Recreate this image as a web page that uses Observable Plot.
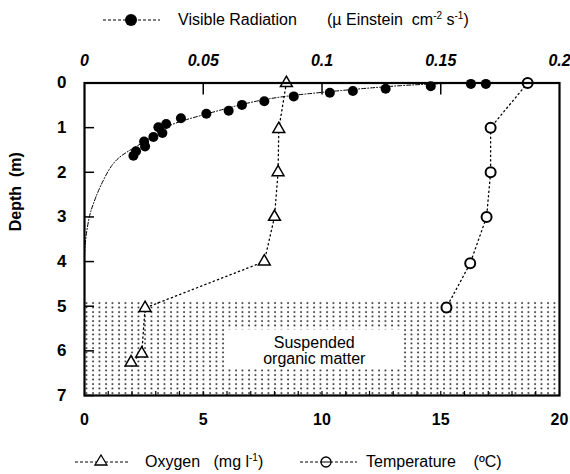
<!DOCTYPE html>
<html><head><meta charset="utf-8">
<script src="https://cdn.jsdelivr.net/npm/d3@7"></script>
<script src="https://cdn.jsdelivr.net/npm/@observablehq/plot@0.6"></script>
<style>
body{margin:0;background:#fff;font-family:"Liberation Sans",Arial,sans-serif;color:#000;}
#wrap{position:relative;width:570px;height:474px;overflow:hidden;}
.leg{position:absolute;left:0;width:570px;}
.leg svg{position:absolute;left:0;top:0;}
.t{position:absolute;font-size:16px;line-height:16px;white-space:nowrap;}
.t sup{font-size:10px;vertical-align:6px;line-height:0;}
</style></head>
<body><div id="wrap">
<div id="topLeg" class="leg" style="top:0;height:40px"></div>
<div id="chart" style="position:absolute;top:40px;left:0"></div>
<div id="botLeg" class="leg" style="top:440px;height:34px"></div>
</div>
<script>
// ---- data ----
const radiation      = [0.169,0.1627,0.1458,0.1268,0.113,0.1033,0.0881,0.0757,0.0663,0.0607,0.0513,0.0406,0.0344,0.0311,0.0328,0.0290,0.0251,0.0255,0.0217,0.0206];
const radiationDepth = [0.02,0.02,0.07,0.13,0.18,0.22,0.30,0.41,0.49,0.62,0.69,0.79,0.92,0.99,1.12,1.21,1.31,1.42,1.53,1.63];
const fitRadiation   = [0.16,0.133,0.10,0.074,0.0516,0.036,0.027,0.0178,0.0115,0.0065,0.0037,0.002,0.0006,0.0];
const fitDepth       = [0,0.06,0.21,0.39,0.69,0.95,1.25,1.55,1.85,2.34,2.71,3.01,3.46,3.85];
const oxygen         = [8.5,8.18,8.15,8.0,7.57,2.55,2.41,1.96];
const oxygenDepth    = [0,1.03,2,3,4,5.04,6.06,6.26];
const temperature    = [18.66,17.1,17.1,16.93,16.24,15.24];
const temperatureDepth = [0,1,2,3,4.04,5.03];
const depthTicks     = [0,1,2,3,4,5,6,7];
const bottomTicks    = [0,5,10,15,20];
const bottomMinorTicks = d3.range(0,21,1);
const topTicks       = [0,0.05,0.1,0.15,0.2];
const topTickLabels  = ["0","0.05","0.1","0.15","0.2"];
const topInnerTicks  = [0.05,0.1,0.15];
const layerDepth     = [4.87,7];          // suspended organic matter layer
const layerLabel     = ["Suspended","organic matter"];
const labelBoxX      = [6.0,13.35];
const labelBoxDepth  = [5.53,6.4];
const labelDepths    = [5.82,6.17];
const radToBottom    = 100;               // 0–0.2 top scale shares the 0–20 bottom scale

// ---- build rows ----
const radRows  = radiation.map((v,i)=>({x:v*radToBottom, y:radiationDepth[i]}));
const fitRows  = fitRadiation.map((v,i)=>({x:v*radToBottom, y:fitDepth[i]}));
const oxyRows  = oxygen.map((v,i)=>({x:v, y:oxygenDepth[i]}));
const tempRows = temperature.map((v,i)=>({x:v, y:temperatureDepth[i]}));
const xDomain = [bottomTicks[0], bottomTicks[bottomTicks.length-1]];

const plot = Plot.plot({
  width:570, height:400,
  marginLeft:84, marginRight:11, marginTop:42.5, marginBottom:45,
  x:{domain:xDomain},
  y:{domain:[0,7], reverse:true},
  style:{fontFamily:"'Liberation Sans', Arial, sans-serif", fontSize:"16px", color:"black", background:"white", overflow:"visible"},
  marks:[
    Plot.rect([{x1:xDomain[0],x2:xDomain[1],y1:layerDepth[0],y2:layerDepth[1]}],{x1:"x1",x2:"x2",y1:"y1",y2:"y2",fill:"url(#dots)"}),
    Plot.rect([{x1:labelBoxX[0],x2:labelBoxX[1],y1:labelBoxDepth[0],y2:labelBoxDepth[1]}],{x1:"x1",x2:"x2",y1:"y1",y2:"y2",fill:"white"}),
    Plot.text(layerLabel,{x:(labelBoxX[0]+labelBoxX[1])/2, y:(d,i)=>labelDepths[i], text:d=>d, fontSize:16}),
    Plot.line(fitRows,{x:"x",y:"y",stroke:"black",strokeWidth:1,strokeDasharray:"4,2,1,2",curve:"natural"}),
    Plot.line(oxyRows,{x:"x",y:"y",stroke:"black",strokeWidth:1.3,strokeDasharray:"1.3,3.2"}),
    Plot.line(tempRows,{x:"x",y:"y",stroke:"black",strokeWidth:1.3,strokeDasharray:"1.3,3.2"}),
    Plot.dot(radRows,{x:"x",y:"y",r:5,fill:"black"}),
    Plot.dot(oxyRows,{x:"x",y:"y",symbol:"triangle",r:4.4,stroke:"black",fill:"white",strokeWidth:1.5}),
    Plot.dot(tempRows,{x:"x",y:"y",r:5,stroke:"black",fill:"white",strokeWidth:2}),
    Plot.frame({stroke:"black",strokeWidth:2.2}),
    // left axis
    Plot.axisY(depthTicks,{anchor:"left",tickSize:-10,tickFormat:()=>"",strokeWidth:1.5}),
    Plot.axisY(depthTicks,{anchor:"left",tickSize:0,tickPadding:18,fontWeight:"bold",fontSize:17,label:null}),
    // bottom axis
    Plot.axisX(bottomMinorTicks,{anchor:"bottom",tickSize:-4,tickFormat:()=>"",strokeWidth:1.2}),
    Plot.axisX(bottomTicks,{anchor:"bottom",tickSize:0,tickPadding:18,fontWeight:"bold",fontSize:16,label:null}),
    // top axis (visible radiation)
    Plot.axisX(topInnerTicks.map(v=>v*radToBottom),{anchor:"top",tickSize:-11,tickFormat:()=>"",strokeWidth:1.5}),
    Plot.axisX(topTicks.map(v=>v*radToBottom),{anchor:"top",tickSize:0,tickPadding:17,fontWeight:"bold",fontStyle:"italic",fontSize:16,
      tickFormat:(d,i)=>topTickLabels[i],label:null}),
    // y label
    Plot.text(["Depth  (m)"],{frameAnchor:"left",dx:-69,dy:-8,rotate:-90,fontWeight:"bold",fontSize:16})
  ]
});
// dotted pattern
const ns="http://www.w3.org/2000/svg";
const defs=document.createElementNS(ns,"defs");
defs.innerHTML='<pattern id="dots" patternUnits="userSpaceOnUse" width="6.5" height="4.5"><rect width="6.5" height="4.5" fill="white"/><circle cx="2" cy="2" r="0.9" fill="black"/></pattern>';
plot.insertBefore(defs,plot.firstChild);
document.getElementById("chart").appendChild(plot);

// ---- legends ----
document.getElementById("topLeg").innerHTML =
 '<svg width="570" height="40"><line x1="103" x2="160" y1="20" y2="20" stroke="black" stroke-dasharray="3,2"/><circle cx="131" cy="20" r="6" fill="black"/></svg>'+
 '<span class="t" style="left:178px;top:12px">Visible Radiation</span>'+
 '<span class="t" style="left:327px;top:12px">(µ Einstein&nbsp; cm<sup>-2</sup> s<sup>-1</sup>)</span>';
document.getElementById("botLeg").innerHTML =
 '<svg width="570" height="34"><line x1="75" x2="128" y1="22" y2="22" stroke="black" stroke-dasharray="3,2"/><path d="M101,15 L107,25 L95,25 Z" fill="white" stroke="black" stroke-width="1.3"/>'+
 '<line x1="300" x2="357" y1="22" y2="22" stroke="black" stroke-dasharray="3,2"/><circle cx="326" cy="22" r="5" fill="white" stroke="black" stroke-width="1.3"/><line x1="321" x2="331" y1="22" y2="22" stroke="black"/></svg>'+
 '<span class="t" style="left:145px;top:14px">Oxygen&nbsp;&nbsp; (mg l<sup>-1</sup>)</span>'+
 '<span class="t" style="left:366px;top:14px">Temperature&nbsp;&nbsp;&nbsp; (ºC)</span>';
</script>
</body></html>
